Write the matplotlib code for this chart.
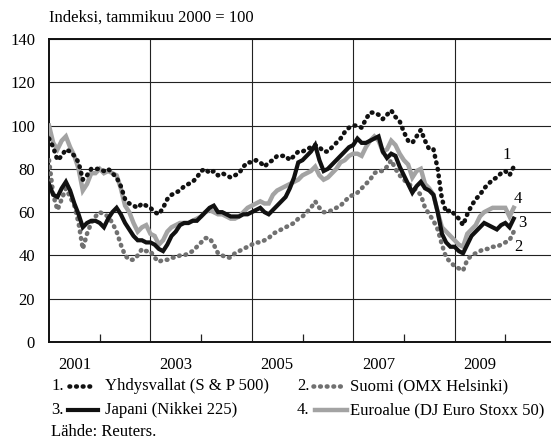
import numpy as np
import matplotlib
matplotlib.use("Agg")
import matplotlib.pyplot as plt
from matplotlib.lines import Line2D

plt.rcParams['font.family'] = ['Liberation Serif', 'DejaVu Serif']
plt.rcParams['font.size'] = 12

# Monthly index values, Jan 2001 .. Mar 2010 (Jan 2000 = 100)
start_year = 2001
usa = [94, 90, 84, 86, 89, 88, 86, 83, 75, 77, 80, 80,
       80, 79, 80, 78, 76, 72, 66, 64, 63, 62, 64, 63,
       62, 60, 59, 62, 66, 68, 69, 70, 72, 73, 74, 76,
       79, 80, 78, 79, 77, 78, 77, 76, 77, 78, 81, 83,
       83, 84, 83, 81, 83, 84, 86, 86, 86, 84, 86, 88,
       88, 89, 90, 91, 90, 88, 88, 90, 92, 94, 97, 99,
       100, 100, 99, 103, 106, 106, 105, 103, 105, 107, 104, 102,
       97, 93, 92, 95, 98, 93, 89, 89, 80, 66, 60, 61,
       59, 57, 54, 59, 63, 66, 68, 71, 73, 75, 76, 78,
       79, 77, 81]
finland = [84, 68, 61, 66, 71, 67, 63, 55, 43, 50, 55, 58,
           60, 59, 58, 55, 51, 45, 40, 38, 38, 40, 43, 42,
           42, 39, 37, 38, 38, 39, 39, 40, 40, 41, 42, 44,
           46, 48, 48, 45, 41, 40, 39, 39, 41, 42, 43, 44,
           45, 46, 46, 47, 48, 50, 51, 52, 53, 54, 55, 57,
           58, 60, 62, 65, 62, 60, 60, 61, 62, 63, 65, 67,
           68, 69, 71, 73, 75, 78, 79, 79, 81, 84, 80, 77,
           75, 73, 72, 70, 68, 62, 59, 56, 52, 45, 39, 37,
           35, 34, 33, 38, 40, 41, 42, 43, 43, 44, 44, 45,
           46, 47, 51]
japan = [73, 68, 67, 71, 74, 70, 64, 59, 53, 55, 56, 56,
         55, 53, 57, 60, 62, 59, 55, 52, 49, 47, 47, 46,
         46, 45, 43, 42, 45, 49, 51, 54, 55, 55, 56, 56,
         58, 60, 62, 63, 60, 60, 59, 58, 58, 58, 59, 59,
         60, 61, 62, 60, 59, 61, 63, 65, 67, 71, 76, 83,
         84, 86, 88, 91, 84, 79, 80, 82, 84, 86, 88, 90,
         91, 94, 92, 92, 93, 94, 95, 88, 85, 87, 86, 81,
         77, 73, 69, 72, 74, 71, 70, 68, 60, 50, 46, 44,
         44, 42, 41, 45, 49, 51, 53, 55, 54, 53, 52, 54,
         55, 53, 57]
euro = [100, 92, 89, 93, 95, 90, 86, 80, 70, 73, 78, 78,
        80, 78, 79, 78, 77, 71, 63, 60, 55, 51, 53, 54,
        50, 49, 45, 47, 51, 53, 54, 55, 55, 55, 56, 57,
        58, 60, 61, 60, 59, 59, 58, 57, 57, 58, 60, 62,
        63, 64, 65, 64, 64, 68, 70, 71, 72, 73, 74, 75,
        77, 78, 79, 81, 77, 75, 76, 78, 80, 83, 84, 86,
        87, 87, 86, 90, 93, 95, 93, 88, 89, 93, 91, 87,
        84, 82, 76, 79, 80, 73, 71, 68, 60, 53, 51, 49,
        47, 45, 44, 50, 52, 54, 58, 60, 61, 62, 62, 62,
        62, 58, 62]

legend_labels = ["Yhdysvallat (S & P 500)", "Suomi (OMX Helsinki)",
                 "Japani (Nikkei 225)", "Euroalue (DJ Euro Stoxx 50)"]
end_labels = ["1", "2", "3", "4"]
year_labels = ["2001", "2003", "2005", "2007", "2009"]
y_ticks = [0, 20, 40, 60, 80, 100, 120, 140]
title = "Indeksi, tammikuu 2000 = 100"
source = "Lähde: Reuters."

W, H = 551, 445
fig = plt.figure(figsize=(W / 100, H / 100), dpi=100)
ax = fig.add_axes([49 / W, (H - 342) / H, (W - 49) / W, (342 - 39) / H])

t = start_year + np.arange(len(usa)) / 12.0

dot = (0, (0.15, 1.3))
styles = [
    dict(color='#111111', lw=3.3, ls=dot, dash_capstyle='round'),   # USA
    dict(color='#707070', lw=3.3, ls=dot, dash_capstyle='round'),   # Finland
    dict(color='#111111', lw=3.0, ls='-', solid_joinstyle='miter'),  # Japan
    dict(color='#a3a3a3', lw=3.2, ls='-', solid_joinstyle='miter'),  # Euro
]
series = [usa, finland, japan, euro]
order = [1, 3, 2, 0]
for k in order:
    ax.plot(t, series[k], zorder=3 + order.index(k), **styles[k])

ax.set_xlim(2001, 2001 + (W - 49) / 50.7)
ax.set_ylim(0, 140)

# y axis
ax.set_yticks(y_ticks)
ax.tick_params(axis='y', length=0, pad=10, labelsize=12)
ax.yaxis.grid(True, color='#222222', lw=0.8)
# x axis
ax.set_xticks([int(y) + 0.5 for y in year_labels])
ax.set_xticklabels(year_labels)
ax.tick_params(axis='x', which='major', length=0, pad=11, labelsize=12)
ax.set_xticks([int(y) + 1 for y in year_labels], minor=True)
ax.tick_params(axis='x', which='minor', direction='in', length=6, width=0.9, color='#222222')
for y in year_labels[1:]:
    ax.axvline(int(y), color='#222222', lw=0.8, zorder=1)
ax.set_axisbelow(True)

for s in ['top', 'left', 'bottom']:
    ax.spines[s].set_linewidth(1.4)
    ax.spines[s].set_color('#111111')
ax.spines['right'].set_visible(False)

# end labels
end_pos = [(2010.03, 86.5), (2010.25, 44), (2010.33, 55), (2010.25, 66)]
for lab, (x, y) in zip(end_labels, end_pos):
    ax.text(x, y, lab, ha='center', va='center', fontsize=12, zorder=10)

def fx(px):
    return px / W

def fy(py):
    return (H - py) / H

fig.text(fx(49), fy(18), title, ha='left', va='center', fontsize=12)

# legend
rows = [386, 386, 410, 410]
num_x = [51, 297, 51, 297]
line_x = [(69, 95), (313, 345), (68, 98), (315, 347)]
text_x = [105, 350, 105, 350]
for k in range(4):
    fig.text(fx(num_x[k]), fy(rows[k]), f"{k + 1}.", ha='left', va='center', fontsize=12)
    st = dict(styles[k])
    fig.add_artist(Line2D([fx(line_x[k][0]), fx(line_x[k][1])], [fy(rows[k]), fy(rows[k])],
                          transform=fig.transFigure, **st))
    fig.text(fx(text_x[k]), fy(rows[k]), legend_labels[k], ha='left', va='center', fontsize=12)

fig.text(fx(51), fy(432), source, ha='left', va='center', fontsize=12)

fig.savefig("out.png", dpi=100)
